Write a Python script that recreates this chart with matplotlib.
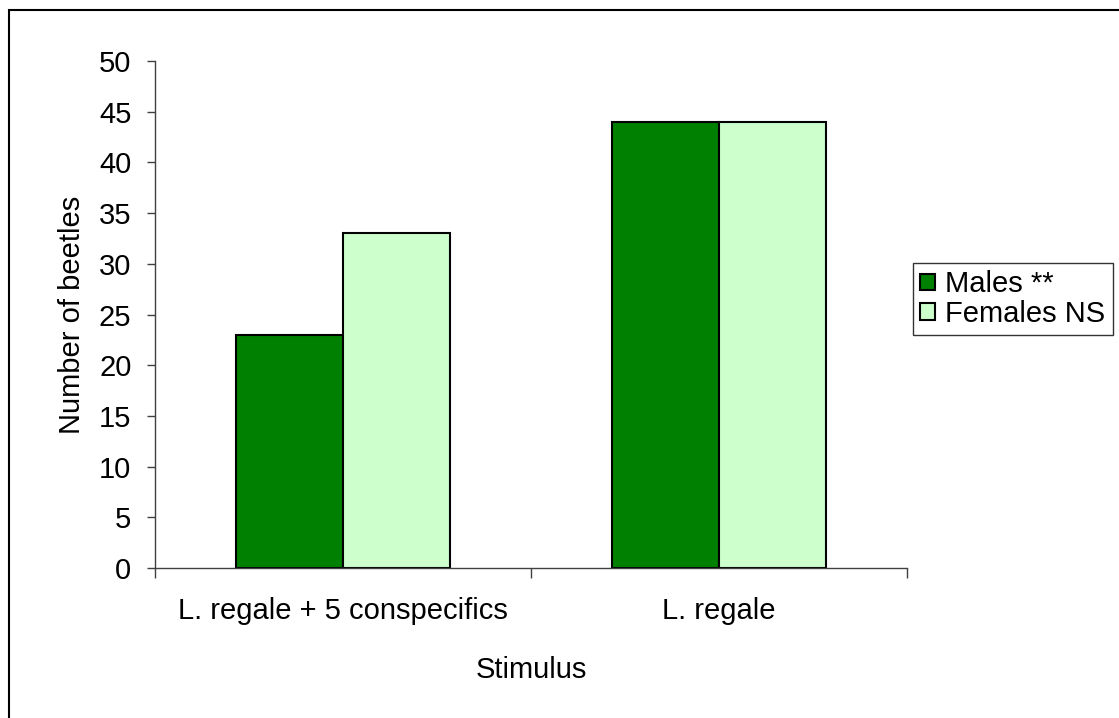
import matplotlib
matplotlib.use("Agg")
import matplotlib.pyplot as plt
from matplotlib.patches import Rectangle
import numpy as np

plt.rcParams['font.family'] = ['Liberation Sans', 'DejaVu Sans']

categories = ["L. regale + 5 conspecifics", "L. regale"]
males = [23, 44]
females = [33, 44]
series_labels = ["Males **", "Females NS"]
male_color = "#008000"
female_color = "#CCFFCC"
yticks = [0, 5, 10, 15, 20, 25, 30, 35, 40, 45, 50]

FS = 21
W, H = 1119, 718
fig = plt.figure(figsize=(W / 100, H / 100), dpi=100)

# outer chart frame (only top and left edges fall inside the canvas)
fig.patches.append(Rectangle((9 / W, -0.05), 1.2, 1 - 10 / H + 0.05,
                             transform=fig.transFigure, fill=False,
                             edgecolor="black", linewidth=1.5))

ax = fig.add_axes([155 / W, 1 - 568 / H, (907 - 155) / W, (568 - 61) / H])

x = np.arange(len(categories))
width = 1 / 3.5
b1 = ax.bar(x - width / 2, males, width, color=male_color,
            edgecolor="black", linewidth=1.5, label=series_labels[0])
b2 = ax.bar(x + width / 2, females, width, color=female_color,
            edgecolor="black", linewidth=1.5, label=series_labels[1])

ax.set_xlim(-0.5, len(categories) - 0.5)
ax.set_ylim(0, 50)
ax.set_yticks(yticks)
ax.set_yticklabels([str(v) for v in yticks])

# boundaries get tick marks, category centres get the labels
ax.set_xticks(np.arange(len(categories) + 1) - 0.5)
ax.set_xticklabels([])
ax.set_xticks(x, minor=True)
ax.set_xticklabels(categories, minor=True)
ax.tick_params(axis="x", which="major", direction="out", length=7.5,
               width=1, color="#404040")
ax.tick_params(axis="x", which="minor", length=0, pad=21, labelsize=FS)
ax.tick_params(axis="y", direction="out", length=6, width=1,
               color="#404040", pad=11, labelsize=FS)

for s in ["top", "right"]:
    ax.spines[s].set_visible(False)
for s in ["left", "bottom"]:
    ax.spines[s].set_color("#404040")
    ax.spines[s].set_linewidth(1)

ax.set_xlabel("Stimulus", fontsize=FS, labelpad=22)
ax.set_ylabel("Number of beetles", fontsize=FS, labelpad=9)

leg = fig.legend(handles=[b1, b2], labels=series_labels,
                 loc="upper left", bbox_to_anchor=(913 / W, 1 - 263 / H),
                 fontsize=FS, frameon=True, fancybox=False, shadow=False,
                 handlelength=0.5, handleheight=0.5, handletextpad=0.35,
                 borderpad=0.25, labelspacing=0.05, borderaxespad=0)
leg.get_frame().set_edgecolor("black")
leg.get_frame().set_linewidth(1)

fig.savefig("out.png", dpi=100)
